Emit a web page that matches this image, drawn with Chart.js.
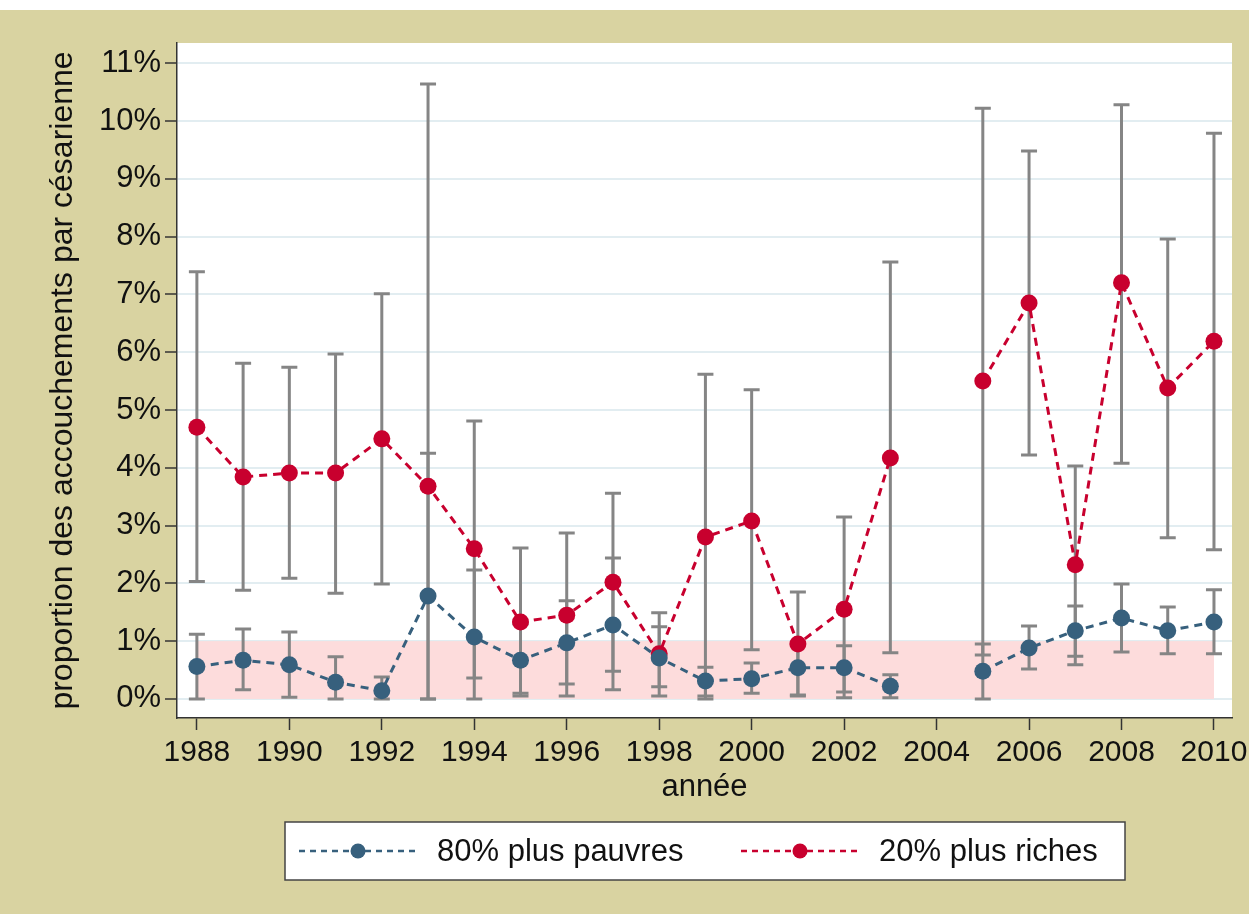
<!DOCTYPE html>
<html>
<head>
<meta charset="utf-8">
<script src="https://cdn.jsdelivr.net/npm/chart.js@4/dist/chart.umd.min.js"></script>
<style>
  html, body { margin: 0; padding: 0; background: #ffffff; }
  #wrap { width: 1249px; height: 914px; }
</style>
</head>
<body>
<div id="wrap"><canvas id="c" width="1249" height="914"></canvas></div>
<script>
// ---- data ----
const years = [1988,1989,1990,1991,1992,1993,1994,1995,1996,1997,1998,1999,2000,2001,2002,2003,2004,2005,2006,2007,2008,2009,2010];
const tickYears = [1988,1990,1992,1994,1996,1998,2000,2002,2004,2006,2008,2010];
const tickPercents = [0,1,2,3,4,5,6,7,8,9,10,11];

const pauvres     = [0.56,0.67,0.59,0.29,0.14,1.78,1.07,0.67,0.97,1.28,0.71,0.31,0.35,0.54,0.54,0.22,null,0.48,0.88,1.18,1.40,1.18,1.33];
const pauvresLow  = [0.00,0.16,0.03,0.00,0.00,0.00,0.00,0.10,0.26,0.16,0.21,0.05,0.10,0.07,0.12,0.02,null,0.00,0.52,0.74,0.81,0.78,0.78];
const pauvresHigh = [1.12,1.21,1.16,0.73,0.38,4.25,2.23,1.30,1.70,2.44,1.25,0.55,0.62,0.95,0.92,0.42,null,0.95,1.26,1.61,1.99,1.59,1.89];

const riches      = [4.70,3.84,3.91,3.91,4.50,3.68,2.60,1.33,1.45,2.02,0.78,2.80,3.08,0.95,1.55,4.17,null,5.50,6.85,2.32,7.20,5.38,6.19];
const richesLow   = [2.03,1.88,2.09,1.83,1.99,0.00,0.36,0.05,0.05,0.48,0.05,0.00,0.85,0.05,0.02,0.80,null,0.76,4.22,0.59,4.08,2.79,2.58];
const richesHigh  = [7.39,5.81,5.74,5.97,7.01,10.64,4.81,2.61,2.87,3.56,1.49,5.62,5.35,1.85,3.15,7.56,null,10.22,9.48,4.03,10.28,7.96,9.79];

const bandFromYear = 1988, bandToYear = 2010, bandLow = 0, bandHigh = 1;

const labelPauvres = '80% plus pauvres';
const labelRiches = '20% plus riches';
const yTitle = 'proportion des accouchements par césarienne';
const xTitle = 'année';

// ---- styles ----
const BLUE = '#37607d';
const RED = '#c8002e';
const KHAKI = '#d9d3a1';
const FONT = "'Liberation Sans', Arial, sans-serif";
const FS = 31;

function toXY(vals) { return years.map((y, i) => ({ x: y, y: vals[i] })); }

const bgPlugin = {
  id: 'bg',
  beforeDraw(chart) {
    const ctx = chart.ctx, a = chart.chartArea;
    ctx.save();
    ctx.fillStyle = '#ffffff';
    ctx.fillRect(0, 0, chart.width, 10);
    ctx.fillStyle = KHAKI;
    ctx.fillRect(0, 10, chart.width, chart.height - 10);
    ctx.fillStyle = '#ffffff';
    ctx.fillRect(a.left, a.top, a.right - a.left, a.bottom - a.top);
    ctx.restore();
  }
};

const bandAndErrors = {
  id: 'bandErr',
  beforeDatasetsDraw(chart) {
    const ctx = chart.ctx, xs = chart.scales.x, ys = chart.scales.y;
    ctx.save();
    // reference band
    ctx.fillStyle = '#fddcdc';
    const bx0 = xs.getPixelForValue(bandFromYear), bx1 = xs.getPixelForValue(bandToYear);
    const by0 = ys.getPixelForValue(bandHigh), by1 = ys.getPixelForValue(bandLow);
    ctx.fillRect(bx0, by0, bx1 - bx0, by1 - by0);
    // error bars
    ctx.strokeStyle = '#858585';
    ctx.lineWidth = 3;
    const cap = 8;
    const drawBars = (lo, hi) => {
      years.forEach((yr, i) => {
        if (lo[i] == null || hi[i] == null) return;
        const px = xs.getPixelForValue(yr);
        const p0 = ys.getPixelForValue(lo[i]), p1 = ys.getPixelForValue(hi[i]);
        ctx.beginPath();
        ctx.moveTo(px, p0); ctx.lineTo(px, p1);
        ctx.moveTo(px - cap, p0); ctx.lineTo(px + cap, p0);
        ctx.moveTo(px - cap, p1); ctx.lineTo(px + cap, p1);
        ctx.stroke();
      });
    };
    drawBars(richesLow, richesHigh);
    drawBars(pauvresLow, pauvresHigh);
    ctx.restore();
  }
};

const boxLegend = {
  id: 'boxLegend',
  afterDraw(chart) {
    const ctx = chart.ctx;
    const box = { x: 285, y: 822, w: 840, h: 58 };
    ctx.save();
    ctx.fillStyle = '#ffffff';
    ctx.fillRect(box.x, box.y, box.w, box.h);
    ctx.strokeStyle = '#444444';
    ctx.lineWidth = 1.5;
    ctx.strokeRect(box.x, box.y, box.w, box.h);
    const cy = box.y + box.h / 2;
    const items = chart.data.datasets.map((d, i) => ({ label: d.label, color: d.borderColor, x0: i === 0 ? 299 : 741 }));
    items.forEach(it => {
      ctx.strokeStyle = it.color;
      ctx.lineWidth = 2.5;
      ctx.setLineDash([6, 5]);
      ctx.beginPath();
      ctx.moveTo(it.x0, cy); ctx.lineTo(it.x0 + 118, cy);
      ctx.stroke();
      ctx.setLineDash([]);
      ctx.fillStyle = it.color;
      ctx.beginPath();
      ctx.arc(it.x0 + 59, cy, 7.5, 0, Math.PI * 2);
      ctx.fill();
      ctx.fillStyle = '#111111';
      ctx.font = FS + 'px ' + FONT;
      ctx.textBaseline = 'middle';
      ctx.textAlign = 'left';
      ctx.fillText(it.label, it.x0 + 138, cy + 1);
    });
    ctx.restore();
  }
};

new Chart(document.getElementById('c'), {
  type: 'line',
  data: {
    datasets: [
      {
        label: labelPauvres,
        data: toXY(pauvres),
        borderColor: BLUE,
        backgroundColor: BLUE,
        borderWidth: 3,
        borderDash: [8, 6],
        pointRadius: 8.5,
        pointHoverRadius: 8.5,
        pointBackgroundColor: BLUE,
        pointBorderWidth: 0,
        spanGaps: false,
        tension: 0
      },
      {
        label: labelRiches,
        data: toXY(riches),
        borderColor: RED,
        backgroundColor: RED,
        borderWidth: 3,
        borderDash: [8, 6],
        pointRadius: 8.5,
        pointHoverRadius: 8.5,
        pointBackgroundColor: RED,
        pointBorderWidth: 0,
        spanGaps: false,
        tension: 0
      }
    ]
  },
  options: {
    responsive: false,
    animation: false,
    layout: { padding: { left: 44, top: 43, right: 17, bottom: 108 } },
    plugins: {
      legend: { display: false },
      tooltip: { enabled: false },
      title: { display: false }
    },
    scales: {
      x: {
        type: 'linear',
        min: 1987.57,
        max: 2010.39,
        afterBuildTicks(s) { s.ticks = tickYears.map(v => ({ value: v })); },
        afterFit(s) { s.height = 88; s.paddingLeft = 0; s.paddingRight = 0; },
        ticks: {
          autoSkip: false,
          maxRotation: 0,
          padding: 5,
          color: '#111111',
          font: { family: FONT, size: 30 },
          callback: v => String(v)
        },
        grid: {
          drawOnChartArea: false,
          drawTicks: true,
          tickLength: 12,
          tickColor: '#333333',
          tickWidth: 1.5
        },
        border: { display: true, color: '#333333', width: 1.5 },
        title: {
          display: true,
          text: xTitle,
          color: '#111111',
          font: { family: FONT, size: FS },
          padding: { top: 0, bottom: 0 }
        }
      },
      y: {
        type: 'linear',
        min: -0.33,
        max: 11.35,
        afterBuildTicks(s) { s.ticks = tickPercents.map(v => ({ value: v })); },
        afterFit(s) { s.width = 133; s.paddingTop = 0; s.paddingBottom = 0; },
        ticks: {
          autoSkip: false,
          padding: 4,
          color: '#111111',
          font: { family: FONT, size: FS },
          callback: v => v + '%'
        },
        grid: {
          color: '#e2edf1',
          lineWidth: 2,
          drawTicks: true,
          tickLength: 12,
          tickColor: '#333333',
          tickWidth: 1.5
        },
        border: { display: true, color: '#333333', width: 1.5 },
        title: {
          display: true,
          text: yTitle,
          color: '#111111',
          font: { family: FONT, size: 32 },
          padding: { top: 0, bottom: 0 }
        }
      }
    }
  },
  plugins: [bgPlugin, bandAndErrors, boxLegend]
});
</script>
</body>
</html>
